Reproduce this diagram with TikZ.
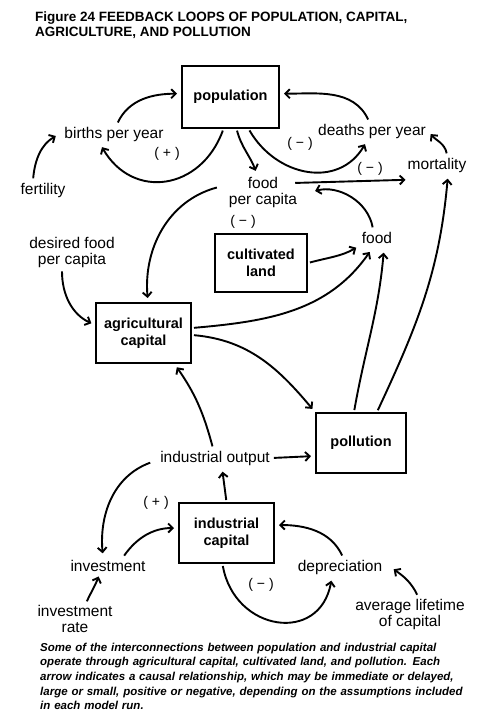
\documentclass[tikz,border=0pt]{standalone}
\usepackage{fontspec}
\setmainfont{Liberation Sans}
\usetikzlibrary{arrows.meta}

\begin{document}
\begin{tikzpicture}
[
	x = 1pt, y = 1pt,
	box/.style = {draw, line width = 2pt, minimum width = 95pt, minimum height = 60pt, align = center, inner sep = 2pt, font = \fontsize{14.5}{17}\selectfont\bfseries},
	var/.style = {align = center, inner sep = 2pt, font = \fontsize{15.5}{16}\selectfont},
	oneline/.style = {var, text height = 11.5pt, text depth = 3.5pt},
	sign/.style = {inner sep = 0pt, font = \fontsize{14}{14}\selectfont},
	flow/.style = {line width = 1.9pt, -{Straight Barb[length=4.5pt,width=9pt]}, shorten <=2pt, shorten >=4pt}
]
\useasboundingbox (0,0) rectangle (489,-725);

\node (title) [anchor = north west, inner sep = 0pt, align = left, font = \fontsize{13.5}{15}\selectfont\bfseries] at (35,-12)
	{Figure 24 FEEDBACK LOOPS OF POPULATION, CAPITAL,\\AGRICULTURE, AND POLLUTION};

\node (pop) [box, minimum width = 97pt, minimum height = 62pt] at (230.5,-96.7) {population};
\node (cult) [box, minimum width = 92pt, minimum height = 58pt] at (261,-263) {cultivated\\land};
\node (agri) [box] at (143.5,-333) {agricultural\\capital};
\node (poll) [box, minimum width = 90pt] at (361,-443) {pollution};
\node (ind) [box] at (226.5,-533) {industrial\\capital};

\node (births) [oneline] at (114,-134) {births per year};
\node (deaths) [oneline] at (372,-131) {deaths per year};
\node (mortality) [oneline] at (437,-165) {mortality};
\node (fertility) [oneline] at (43,-190) {fertility};
\node (fpc) [var] at (263,-192) {food\\per capita};
\node (desired) [var] at (72,-252) {desired food\\per capita};
\node (food) [oneline] at (377,-239) {food};
\node (indout) [oneline] at (215,-458) {industrial output};
\node (invest) [oneline] at (108,-567) {investment};
\node (depr) [oneline] at (340,-567) {depreciation};
\node (invrate) [var] at (75,-619) {investment\\rate};
\node (avglife) [var] at (410,-614) {average lifetime\\of capital};

\node (s1) [sign] at (167,-154) {(\hspace{4pt}+\hspace{4pt})};
\node (s2) [sign] at (300,-144) {(\hspace{4pt}−\hspace{4pt})};
\node (s3) [sign] at (370,-169) {(\hspace{4pt}−\hspace{4pt})};
\node (s4) [sign] at (243,-222) {(\hspace{4pt}−\hspace{4pt})};
\node (s5) [sign] at (156,-503) {(\hspace{4pt}+\hspace{4pt})};
\node (s6) [sign] at (261,-585) {(\hspace{4pt}−\hspace{4pt})};

\draw[flow] ([xshift=3pt]births.north) to[out=65,in=180] ([yshift=3pt]pop.west);
\draw[flow] ([xshift=-7pt]pop.south) to[out=250,in=-60,looseness=1.35] ([xshift=-14pt]births.south);
\draw[flow] ([xshift=-10pt]fertility.north) to[out=85,in=210] ([xshift=-3pt]births.west);
\draw[flow] ([xshift=6pt]pop.south) to[out=-75,in=110] ([xshift=-6pt]fpc.north);
\draw[flow] ([xshift=18pt]pop.south) to[out=-60,in=-120,looseness=1.2] ([xshift=-5pt]deaths.south);
\draw[flow] ([xshift=-3pt]deaths.north) to[out=115,in=0] ([yshift=3pt]pop.east);
\draw[flow] ([xshift=10pt]mortality.north) to[out=100,in=-50] (deaths.east);
\draw[flow] ([xshift=-6pt,yshift=9pt]fpc.east) -- ([xshift=4pt,yshift=-5pt]mortality.south west);
\draw[flow] ([xshift=-4pt]food.north) to[out=100,in=15] ([xshift=12pt]fpc.east);
\draw[flow] ([xshift=-8pt,yshift=5pt]fpc.west) to[out=195,in=95] ([xshift=4.5pt]agri.north);
\draw[flow] ([xshift=-10pt]desired.south) to[out=-90,in=155] ([yshift=8pt]agri.west);
\draw[flow] (cult.east) to[out=15,in=210] ([yshift=3pt]food.south west);
\draw[flow] ([yshift=5pt]agri.east) to[out=5,in=-125] ([xshift=-5pt]food.south);
\draw[flow] ([yshift=-2pt]agri.east) to[out=-5,in=130] (poll.north west);
\draw[flow] ([xshift=-7pt]poll.north) to[out=80,in=-95] ([xshift=7pt]food.south);
\draw[flow] ([xshift=16pt]poll.north) to[out=65,in=-95] ([xshift=11pt]mortality.south);
\draw[flow] ([xshift=-2pt]indout.north) to[out=105,in=-55] ([xshift=31pt]agri.south);
\draw[flow] (indout.east) -- ([yshift=-13pt]poll.west);
\draw[flow] ([xshift=-6pt,yshift=-4pt]indout.west) to[out=200,in=95] ([xshift=-5pt]invest.north);
\draw[flow] ([xshift=15pt]invest.north) to[out=55,in=180] ([yshift=5pt]ind.west);
\draw[flow] (ind.north) -- ([xshift=7pt]indout.south);
\draw[flow] ([xshift=3pt]depr.north) to[out=115,in=0] ([yshift=8pt]ind.east);
\draw[flow] ([xshift=-4pt]ind.south) to[out=-80,in=-100,looseness=1.6] ([xshift=-8pt]depr.south);
\draw[flow] ([xshift=11pt]invrate.north) to[out=65,in=-110] ([xshift=-8pt,yshift=4pt]invest.south);
\draw[flow] ([xshift=8pt]avglife.north) to[out=115,in=-35] ([xshift=6pt]depr.east);

\node (caption) [anchor = north west, inner sep = 0pt, text width = 427pt, font = \fontsize{11.5}{14.7}\selectfont\bfseries\itshape] at (40,-642.5)
	{\noindent\tolerance=9999\hyphenpenalty=10000 Some of the interconnections between population and industrial capital\linebreak
	operate through agricultural capital, cultivated land, and pollution. Each\linebreak
	arrow indicates a causal relationship, which may be immediate or delayed,\linebreak
	large or small, positive or negative, depending on the assumptions included\linebreak
	in each model run.};
\end{tikzpicture}
\end{document}
